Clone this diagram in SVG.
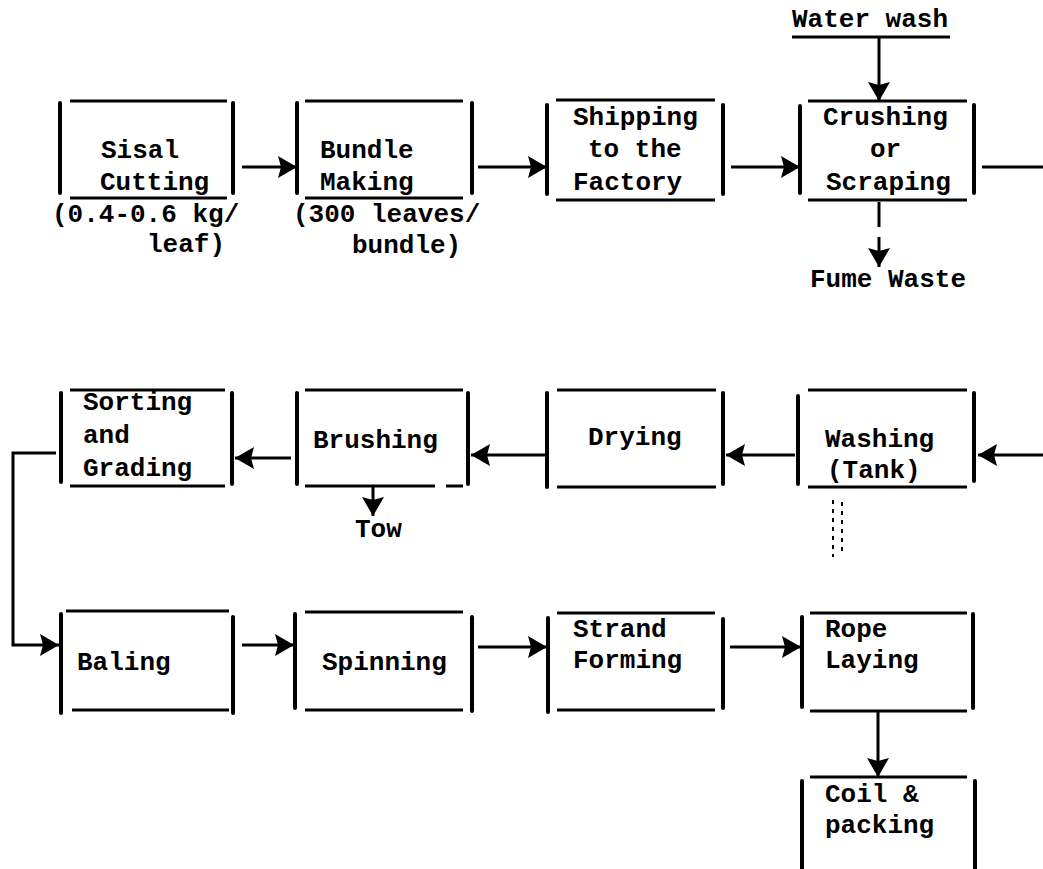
<svg xmlns="http://www.w3.org/2000/svg" width="1043" height="869" viewBox="0 0 1043 869">
<style>
.v{stroke:#000;stroke-width:4;stroke-linecap:round;fill:none}
.h{stroke:#000;stroke-width:3;fill:none}
.c{stroke:#000;stroke-width:3;fill:none}
text{font-family:"Liberation Mono","DejaVu Sans Mono",monospace;font-weight:bold;font-size:26px;fill:#000}
</style>
<defs>
<marker id="ah" markerUnits="userSpaceOnUse" markerWidth="19" markerHeight="22" refX="19" refY="11" orient="auto">
<path d="M0,0 L19,11 L0,22 L3,11 Z" fill="#000"/>
</marker>
</defs>
<rect width="1043" height="869" fill="#fff"/>

<g id="connectors">
<path class="c" d="M242,167 H297" marker-end="url(#ah)"/>
<path class="c" d="M478,167 H547" marker-end="url(#ah)"/>
<path class="c" d="M731,167 H800" marker-end="url(#ah)"/>
<path class="c" d="M982,167 H1043"/>
<path class="c" d="M879,37 V101" marker-end="url(#ah)"/>
<path class="c" d="M879,202 V227"/>
<path class="c" d="M879,237 V267" marker-end="url(#ah)"/>
<path class="c" d="M1043,455 H978" marker-end="url(#ah)"/>
<path class="c" d="M795,455 H726" marker-end="url(#ah)"/>
<path class="c" d="M545,455 H471" marker-end="url(#ah)"/>
<path class="c" d="M291,458 H235" marker-end="url(#ah)"/>
<path class="c" d="M373,487 V516" marker-end="url(#ah)"/>
<path class="c" d="M56,453 H13 V645 H59" marker-end="url(#ah)"/>
<path class="c" d="M242,645 H294" marker-end="url(#ah)"/>
<path class="c" d="M478,647 H547" marker-end="url(#ah)"/>
<path class="c" d="M730,647 H801" marker-end="url(#ah)"/>
<path class="c" d="M878,711 V777" marker-end="url(#ah)"/>
<path d="M833,500 V557 M842,502 V556" stroke="#000" stroke-width="2" stroke-dasharray="4,5" fill="none"/>
</g>

<g id="water-wash">
<text x="792" y="27">Water wash</text>
<path class="h" d="M792,37 H950"/>
</g>

<g id="sisal-cutting">
<path class="v" d="M60,103 V193 M233,103 V193"/>
<path class="h" d="M70,101 H227 M70,198 H227"/>
<text x="101" y="158">Sisal</text>
<text x="100" y="190">Cutting</text>
<text x="52" y="222">(0.4-0.6 kg/</text>
<text x="147" y="252">leaf)</text>
</g>

<g id="bundle-making">
<path class="v" d="M297,103 V193 M472,103 V193"/>
<path class="h" d="M305,101 H463 M305,198 H463"/>
<text x="320" y="158">Bundle</text>
<text x="320" y="190">Making</text>
<text x="293" y="222">(300 leaves/</text>
<text x="352" y="253">bundle)</text>
</g>

<g id="shipping">
<path class="v" d="M547,105 V194 M723,105 V194"/>
<path class="h" d="M556,100 H715 M556,200 H715"/>
<text x="573" y="125">Shipping</text>
<text x="588" y="157">to the</text>
<text x="573" y="190">Factory</text>
</g>

<g id="crushing">
<path class="v" d="M800,106 V193 M974,105 V193"/>
<path class="h" d="M808,101 H967 M808,200 H967"/>
<text x="823" y="125">Crushing</text>
<text x="870" y="157">or</text>
<text x="826" y="190">Scraping</text>
</g>

<g id="fume-waste">
<text x="810" y="287">Fume Waste</text>
</g>

<g id="sorting">
<path class="v" d="M61,393 V482 M232,393 V484"/>
<path class="h" d="M70,390 H225 M70,486 H225"/>
<text x="83" y="410">Sorting</text>
<text x="83" y="443">and</text>
<text x="83" y="476">Grading</text>
</g>

<g id="brushing">
<path class="v" d="M297,393 V484 M468,393 V484"/>
<path class="h" d="M305,390 H463 M305,486 H435 M446,486 H463"/>
<text x="313" y="448">Brushing</text>
</g>

<g id="tow">
<text x="355" y="537">Tow</text>
</g>

<g id="drying">
<path class="v" d="M547,393 V487 M723,393 V484"/>
<path class="h" d="M557,390 H716 M557,487 H716"/>
<text x="588" y="445">Drying</text>
</g>

<g id="washing">
<path class="v" d="M798,396 V484 M974,393 V481"/>
<path class="h" d="M808,390 H967 M808,487 H967"/>
<text x="825" y="447">Washing</text>
<text x="827" y="478">(Tank)</text>
</g>

<g id="baling">
<path class="v" d="M61,614 V713 M233,617 V713"/>
<path class="h" d="M66,611 H229 M72,710 H229"/>
<text x="77" y="670">Baling</text>
</g>

<g id="spinning">
<path class="v" d="M295,614 V708 M472,617 V711"/>
<path class="h" d="M305,612 H463 M305,710 H463"/>
<text x="322" y="670">Spinning</text>
</g>

<g id="strand">
<path class="v" d="M548,618 V712 M723,619 V708"/>
<path class="h" d="M557,613 H715 M557,710 H715"/>
<text x="573" y="637">Strand</text>
<text x="573" y="668">Forming</text>
</g>

<g id="rope">
<path class="v" d="M802,617 V707 M973,614 V708"/>
<path class="h" d="M810,613 H967 M810,711 H967"/>
<text x="825" y="637">Rope</text>
<text x="825" y="668">Laying</text>
</g>

<g id="coil">
<path class="v" d="M802,781 V869 M975,781 V869"/>
<path class="h" d="M810,777 H967"/>
<text x="825" y="802">Coil &amp;</text>
<text x="825" y="833">packing</text>
</g>
</svg>
